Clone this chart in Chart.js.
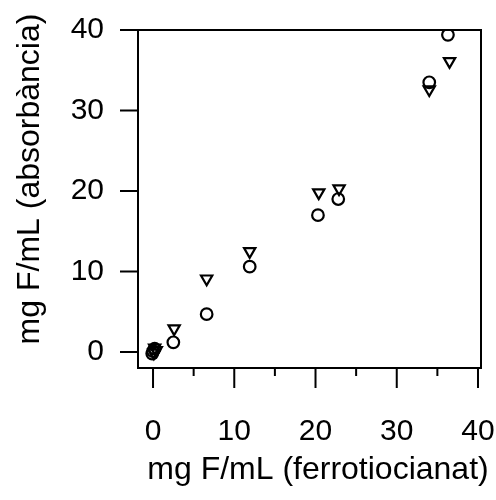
<!DOCTYPE html>
<html>
<head>
<meta charset="utf-8">
<script src="https://cdn.jsdelivr.net/npm/chart.js@4.4.1/dist/chart.umd.min.js"></script>
<style>
  body{margin:0;background:#fff;}
  #wrap{width:496px;height:500px;}
</style>
</head>
<body>
<div id="wrap"><canvas id="myChart"></canvas></div>
<script>
// circles (first method)
var circleX=[-0.1, 0.2, 0.0, 2.5, 6.6, 11.9, 20.3, 22.8, 34.0, 36.3];
var circleY=[-0.2, 0.4, 0.1, 1.2, 4.7, 10.6, 17.0, 19.0, 33.5, 39.4];
// down triangles (second method)
var triangleX=[0.4, 0.2, 0.1, 2.6, 6.6, 11.9, 20.4, 22.9, 34.0, 36.5];
var triangleY=[0.2, 0.5, -0.1, 2.9, 9.1, 12.5, 19.8, 20.3, 32.6, 36.1];

var xTicks=[0,10,20,30,40];
var xMinorTicks=[5,15,25,35];
var yTicks=[0,10,20,30,40];
var xTitle="mg F/mL (ferrotiocianat)";
var yTitle="mg F/mL (absorbància)";

function getpoints(xs,ys){
  var points=[];
  for(var i=0;i<xs.length;i++){
    points.push({x:xs[i],y:ys[i]});
  }
  return points;
}

// no extra room for overhanging labels, the box is fixed
function nopadding(s){
  s.paddingLeft=0;
  s.paddingRight=0;
  s.paddingTop=0;
  s.paddingBottom=0;
}

// box round the plot and R-like tick marks hanging out of it
var boxAndTicks={
  id:'boxAndTicks',
  beforeDatasetsDraw:function(chart){
    var ctx=chart.ctx;
    var a=chart.chartArea;
    var sx=chart.scales.x;
    var sy=chart.scales.y;
    ctx.save();
    ctx.strokeStyle='#000';
    ctx.lineWidth=2;
    ctx.strokeRect(a.left,a.top,a.right-a.left,a.bottom-a.top);
    ctx.beginPath();
    for(var i=0;i<xTicks.length;i++){
      var px=sx.getPixelForValue(xTicks[i]);
      ctx.moveTo(px,a.bottom);
      ctx.lineTo(px,a.bottom+20);
    }
    for(var j=0;j<xMinorTicks.length;j++){
      var mx=sx.getPixelForValue(xMinorTicks[j]);
      ctx.moveTo(mx,a.bottom);
      ctx.lineTo(mx,a.bottom+8);
    }
    for(var k=0;k<yTicks.length;k++){
      var py=sy.getPixelForValue(yTicks[k]);
      ctx.moveTo(a.left,py);
      ctx.lineTo(a.left-18,py);
    }
    ctx.stroke();
    ctx.restore();
  },
  // axis titles, the y one sits higher than the box centre in the original
  afterDraw:function(chart){
    var ctx=chart.ctx;
    ctx.save();
    ctx.fillStyle='#000';
    ctx.font='32px "Liberation Sans"';
    ctx.textAlign='center';
    ctx.textBaseline='middle';
    ctx.fillText(xTitle,318,470);
    ctx.translate(30,179);
    ctx.rotate(-Math.PI/2);
    ctx.fillText(yTitle,0,0);
    ctx.restore();
  }
};

function init(){
  var ctx=document.getElementById('myChart').getContext('2d');
  var myChart=new Chart(ctx,{
    type:'scatter',
    data:{
      datasets:[{
        label:'circles',
        data:getpoints(circleX,circleY),
        pointStyle:'circle',
        pointRadius:5.8,
        pointBorderWidth:2.2,
        borderColor:'#000',
        backgroundColor:'rgba(0,0,0,0)'
      },{
        label:'triangles',
        data:getpoints(triangleX,triangleY),
        pointStyle:'triangle',
        rotation:180,
        pointRadius:6.5,
        pointBorderWidth:2.2,
        borderColor:'#000',
        backgroundColor:'rgba(0,0,0,0)'
      }]
    },
    options:{
      responsive:true,
      maintainAspectRatio:false,
      animation:false,
      layout:{padding:{top:30,right:15,left:0,bottom:0}},
      plugins:{legend:{display:false},tooltip:{enabled:false}},
      scales:{
        x:{
          type:'linear',
          min:-1.85,
          max:40.37,
          afterBuildTicks:function(s){ s.ticks=xTicks.map(function(v){return {value:v};}); },
          afterFit:function(s){ s.height=132; nopadding(s); },
          grid:{display:false,drawTicks:false},
          border:{display:false},
          ticks:{color:'#000',padding:46,font:{family:'Liberation Sans',size:30},maxRotation:0,autoSkip:false}
        },
        y:{
          type:'linear',
          min:-1.99,
          max:40,
          afterBuildTicks:function(s){ s.ticks=yTicks.map(function(v){return {value:v};}); },
          afterFit:function(s){ s.width=138; nopadding(s); },
          grid:{display:false,drawTicks:false},
          border:{display:false},
          ticks:{color:'#000',padding:34,font:{family:'Liberation Sans',size:30},autoSkip:false}
        }
      }
    },
    plugins:[boxAndTicks]
  });
  console.log(myChart.chartArea);
}

init();
</script>
</body>
</html>
